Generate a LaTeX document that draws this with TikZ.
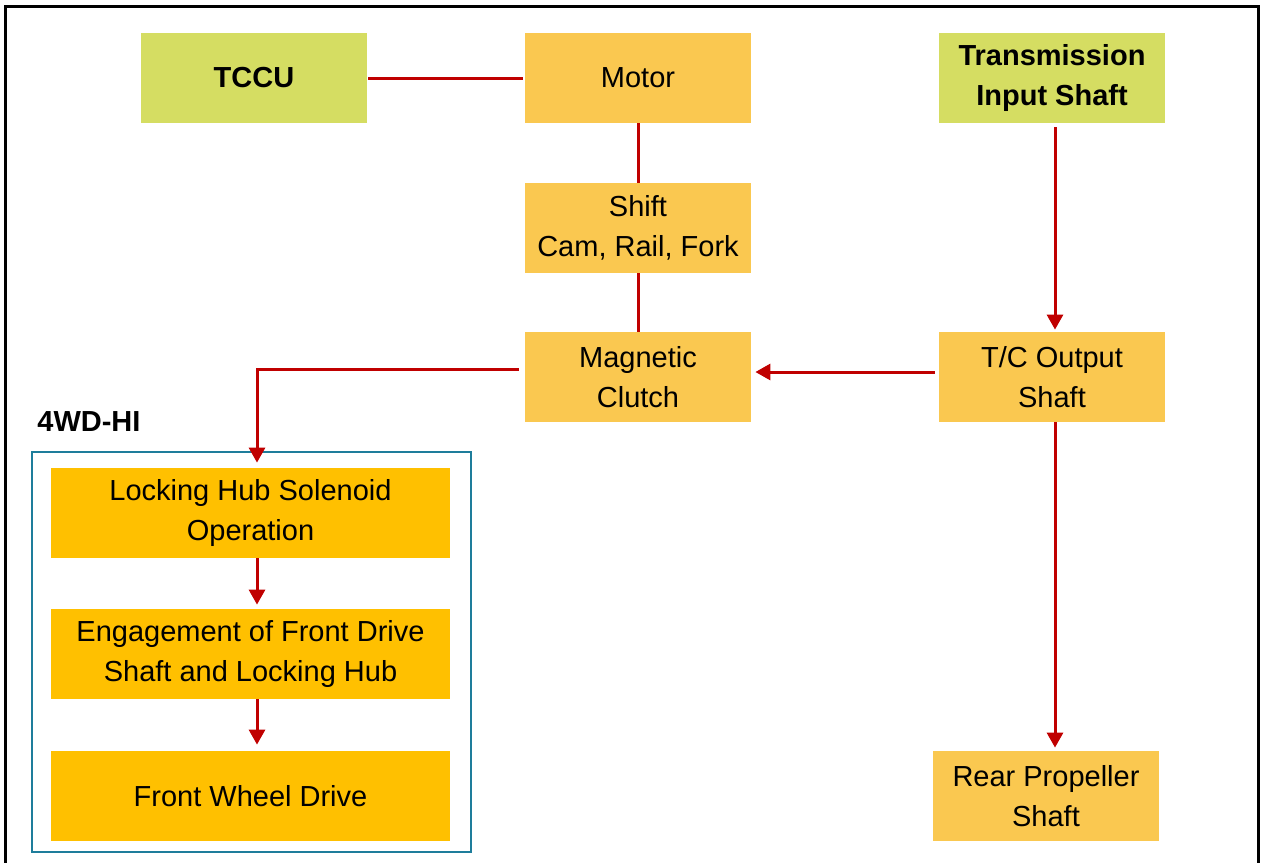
\documentclass[tikz,border=0pt]{standalone}
\usepackage{fontspec}
\setmainfont{Liberation Sans}
\usetikzlibrary{arrows.meta}
\definecolor{lgreen}{RGB}{213,221,98}
\definecolor{lorange}{RGB}{250,200,80}
\definecolor{amberc}{RGB}{255,192,0}
\definecolor{dred}{RGB}{192,0,0}
\definecolor{grpteal}{RGB}{30,125,155}
\begin{document}
\begin{tikzpicture}[x=0.5pt,y=-0.5pt,
 box/.style={minimum width=113pt, minimum height=45pt, inner sep=0pt, align=center, font=\fontsize{14.5}{20}\selectfont},
 gbox/.style={box, fill=lgreen, font=\fontsize{14.5}{20}\selectfont\bfseries},
 obox/.style={box, fill=lorange},
 abox/.style={box, fill=amberc, minimum width=199.5pt},
 conn/.style={draw=dred, line width=1.5pt},
 arr/.style={conn, -{Triangle[length=7.5pt,width=8pt]}}]
\useasboundingbox (0,0) rectangle (1266,863);
\draw[line width=1.5pt] (5,6) rectangle (1258,880);
\node[gbox] (tccu) at (254,78) {TCCU};
\node[obox] (motor) at (638,78) {Motor};
\node[gbox] (tis) at (1052,78) {Transmission\\Input Shaft};
\node[obox] (shift) at (638,228) {Shift\\Cam, Rail, Fork};
\node[obox] (mc) at (638,377) {Magnetic\\Clutch};
\node[obox] (tc) at (1052,377) {T/C Output\\Shaft};
\node[obox] (rps) at (1046,796) {Rear Propeller\\Shaft};
\node[draw=grpteal, line width=1pt, minimum width=219.5pt, minimum height=200pt, inner sep=0pt] (grp) at (251.5,652) {};
\node[anchor=base west, inner sep=0pt, font=\fontsize{14.5}{20}\selectfont\bfseries] (lbl) at (37,431) {4WD-HI};
\node[abox] (lhs) at (250.5,513) {Locking Hub Solenoid\\Operation};
\node[abox] (eng) at (250.5,654) {Engagement of Front Drive\\Shaft and Locking Hub};
\node[abox] (fwd) at (250.5,796) {Front Wheel Drive};
\draw[conn, shorten <=0.5pt, shorten >=1pt] (tccu.east) -- (motor.west);
\draw[conn] (motor) -- (shift);
\draw[conn] (shift) -- (mc);
\draw[arr, shorten >=2.5pt] ([yshift=4pt,xshift=-3pt]mc.west) -| ([xshift=3.25pt]lhs.north);
\draw[arr, shorten >=2pt] ([yshift=2.5pt,xshift=-2pt]tc.west) -- ([yshift=2.5pt]mc.east);
\draw[arr, shorten <=2pt, shorten >=1pt] ([xshift=1.5pt]tis.south) -- ([xshift=1.5pt]tc.north);
\draw[arr, shorten >=1.5pt] ([xshift=1.5pt]tc.south) -- ([xshift=4.5pt]rps.north);
\draw[arr, shorten >=2pt] ([xshift=3.25pt]lhs.south) -- ([xshift=3.25pt]eng.north);
\draw[arr, shorten >=3pt] ([xshift=3.25pt]eng.south) -- ([xshift=3.25pt]fwd.north);
\end{tikzpicture}
\end{document}
